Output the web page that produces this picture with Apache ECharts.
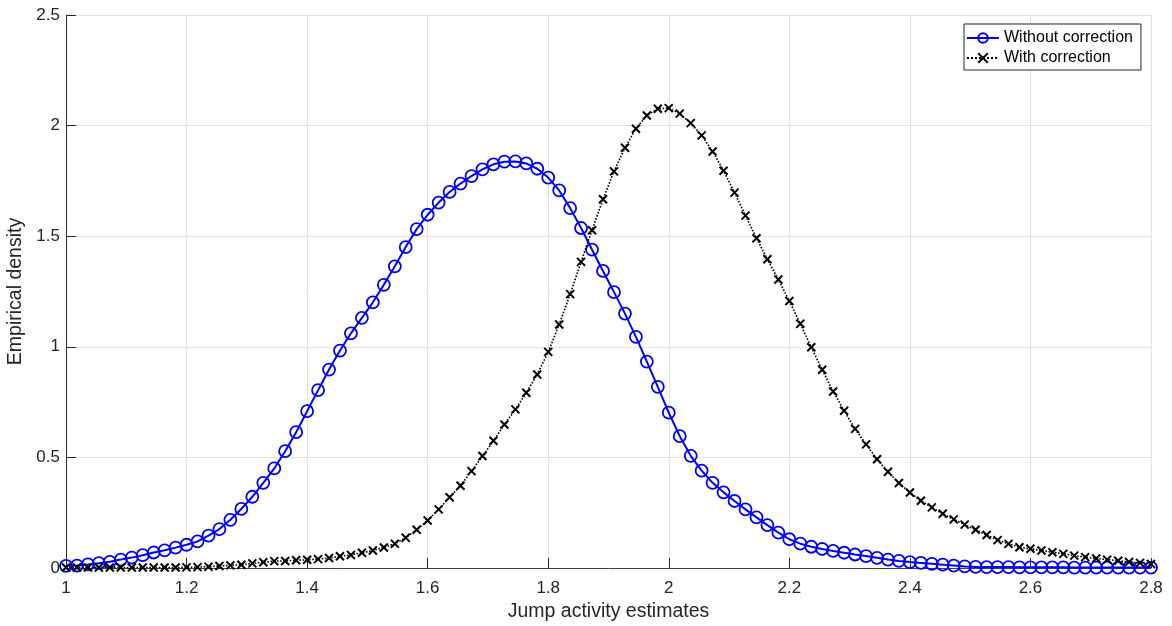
<!DOCTYPE html>
<html>
<head>
<meta charset="utf-8">
<script src="https://cdn.jsdelivr.net/npm/echarts@6/dist/echarts.min.js"></script>
<style>
html,body{margin:0;padding:0;background:#fff;}
#chart{width:1172px;height:626px;}
</style>
</head>
<body>
<div id="chart"></div>
<script>
// Sample points on the jump-activity axis (100 points, 1 to 2.8)
var xValues = [
  1.0000,1.0182,1.0364,1.0545,1.0727,1.0909,1.1091,1.1273,1.1455,1.1636,1.1818,
  1.2000,1.2182,1.2364,1.2545,1.2727,1.2909,1.3091,1.3273,1.3455,1.3636,1.3818,
  1.4000,1.4182,1.4364,1.4545,1.4727,1.4909,1.5091,1.5273,1.5455,1.5636,1.5818,
  1.6000,1.6182,1.6364,1.6545,1.6727,1.6909,1.7091,1.7273,1.7455,1.7636,1.7818,
  1.8000,1.8182,1.8364,1.8545,1.8727,1.8909,1.9091,1.9273,1.9455,1.9636,1.9818,
  2.0000,2.0182,2.0364,2.0545,2.0727,2.0909,2.1091,2.1273,2.1455,2.1636,2.1818,
  2.2000,2.2182,2.2364,2.2545,2.2727,2.2909,2.3091,2.3273,2.3455,2.3636,2.3818,
  2.4000,2.4182,2.4364,2.4545,2.4727,2.4909,2.5091,2.5273,2.5455,2.5636,2.5818,
  2.6000,2.6182,2.6364,2.6545,2.6727,2.6909,2.7091,2.7273,2.7455,2.7636,2.7818,
  2.8000
];

var withoutCorrection = [
  0.010,0.011,0.016,0.022,0.028,0.038,0.047,0.058,0.070,0.080,0.092,
  0.105,0.120,0.146,0.176,0.218,0.267,0.322,0.385,0.450,0.528,0.614,
  0.709,0.804,0.897,0.983,1.061,1.131,1.201,1.280,1.364,1.451,1.532,
  1.597,1.652,1.700,1.738,1.772,1.802,1.825,1.837,1.838,1.829,1.805,
  1.765,1.707,1.627,1.537,1.439,1.343,1.247,1.150,1.045,0.933,0.819,
  0.702,0.596,0.507,0.440,0.385,0.342,0.303,0.265,0.229,0.194,0.160,
  0.130,0.110,0.096,0.086,0.077,0.069,0.061,0.054,0.046,0.038,0.032,
  0.027,0.023,0.019,0.015,0.011,0.007,0.005,0.004,0.004,0.004,0.003,
  0.003,0.003,0.003,0.003,0.002,0.002,0.002,0.002,0.002,0.002,0.002,
  0.002
];

var withCorrection = [
  0.002,0.002,0.002,0.002,0.002,0.002,0.002,0.002,0.002,0.002,0.002,
  0.003,0.004,0.006,0.009,0.012,0.015,0.021,0.026,0.031,0.032,0.035,
  0.037,0.040,0.045,0.053,0.059,0.069,0.079,0.093,0.110,0.137,0.173,
  0.215,0.265,0.320,0.372,0.438,0.506,0.575,0.649,0.717,0.792,0.875,
  0.977,1.101,1.238,1.384,1.527,1.667,1.793,1.900,1.986,2.046,2.076,
  2.079,2.054,2.011,1.956,1.883,1.796,1.697,1.593,1.491,1.396,1.304,
  1.207,1.104,0.998,0.896,0.798,0.711,0.629,0.559,0.492,0.435,0.384,
  0.341,0.304,0.274,0.245,0.220,0.196,0.173,0.149,0.126,0.109,0.094,
  0.087,0.079,0.071,0.064,0.056,0.049,0.043,0.038,0.033,0.027,0.023,
  0.018
];

var seriesNames = ['Without correction', 'With correction'];
var xTitle = 'Jump activity estimates';
var yTitle = 'Empirical density';

function pairs(xs, ys) {
  var out = [];
  for (var i = 0; i < xs.length; i++) out.push([xs[i], ys[i]]);
  return out;
}

var FONT = 'Liberation Sans, Arial, Helvetica, sans-serif';
var AX = '#262626';

var chart = echarts.init(document.getElementById('chart'), null, {renderer: 'canvas'});
chart.setOption({
  animation: false,
  backgroundColor: '#ffffff',
  grid: {left: 66, right: 21, top: 15, bottom: 58, containLabel: false, outerBoundsMode: 'none'},
  legend: {
    orient: 'vertical',
    left: 964,
    top: 24,
    padding: [5, 8, 3, 2],
    itemGap: 2,
    itemWidth: 32,
    itemHeight: 12,
    backgroundColor: '#ffffff',
    borderColor: AX,
    borderWidth: 1,
    borderRadius: 0,
    textStyle: {fontFamily: FONT, fontSize: 16, color: '#000', lineHeight: 18},
    data: seriesNames
  },
  xAxis: {
    type: 'value',
    min: 1, max: 2.8, interval: 0.2,
    name: xTitle,
    nameLocation: 'middle',
    nameGap: 27,
    nameTextStyle: {fontFamily: FONT, fontSize: 19.5, color: AX},
    axisLine: {show: true, onZero: false, lineStyle: {color: '#404040', width: 1}},
    axisTick: {show: true, inside: true, length: 10, lineStyle: {color: AX}},
    axisLabel: {fontFamily: FONT, fontSize: 17, color: AX, margin: 12},
    splitLine: {show: true, lineStyle: {color: '#e3e3e3', width: 1}}
  },
  yAxis: {
    type: 'value',
    min: 0, max: 2.5, interval: 0.5,
    name: yTitle,
    nameLocation: 'middle',
    nameGap: 33,
    nameTextStyle: {fontFamily: FONT, fontSize: 19.5, color: AX},
    axisLine: {show: true, onZero: false, lineStyle: {color: AX, width: 1}},
    axisTick: {show: true, inside: true, length: 10, lineStyle: {color: AX}},
    axisLabel: {fontFamily: FONT, fontSize: 17, color: AX, margin: 6},
    splitLine: {show: true, lineStyle: {color: '#e3e3e3', width: 1}}
  },
  series: [
    {
      name: seriesNames[0],
      type: 'line',
      data: pairs(xValues, withoutCorrection),
      symbol: 'circle',
      symbolSize: 12,
      showAllSymbol: true,
      lineStyle: {color: '#0000ff', width: 2, type: 'solid'},
      itemStyle: {color: 'rgba(0,0,0,0)', borderColor: '#0000ff', borderWidth: 1.8},
      emphasis: {disabled: true},
      z: 2
    },
    {
      name: seriesNames[1],
      type: 'line',
      data: pairs(xValues, withCorrection),
      symbol: 'path://M0,0 L10,10 M10,0 L0,10',
      symbolSize: 8,
      showAllSymbol: true,
      lineStyle: {color: '#000000', width: 1.6, type: 'dotted'},
      itemStyle: {color: 'rgba(0,0,0,0)', borderColor: '#000000', borderWidth: 2},
      emphasis: {disabled: true},
      z: 3
    }
  ]
});
</script>
</body>
</html>
